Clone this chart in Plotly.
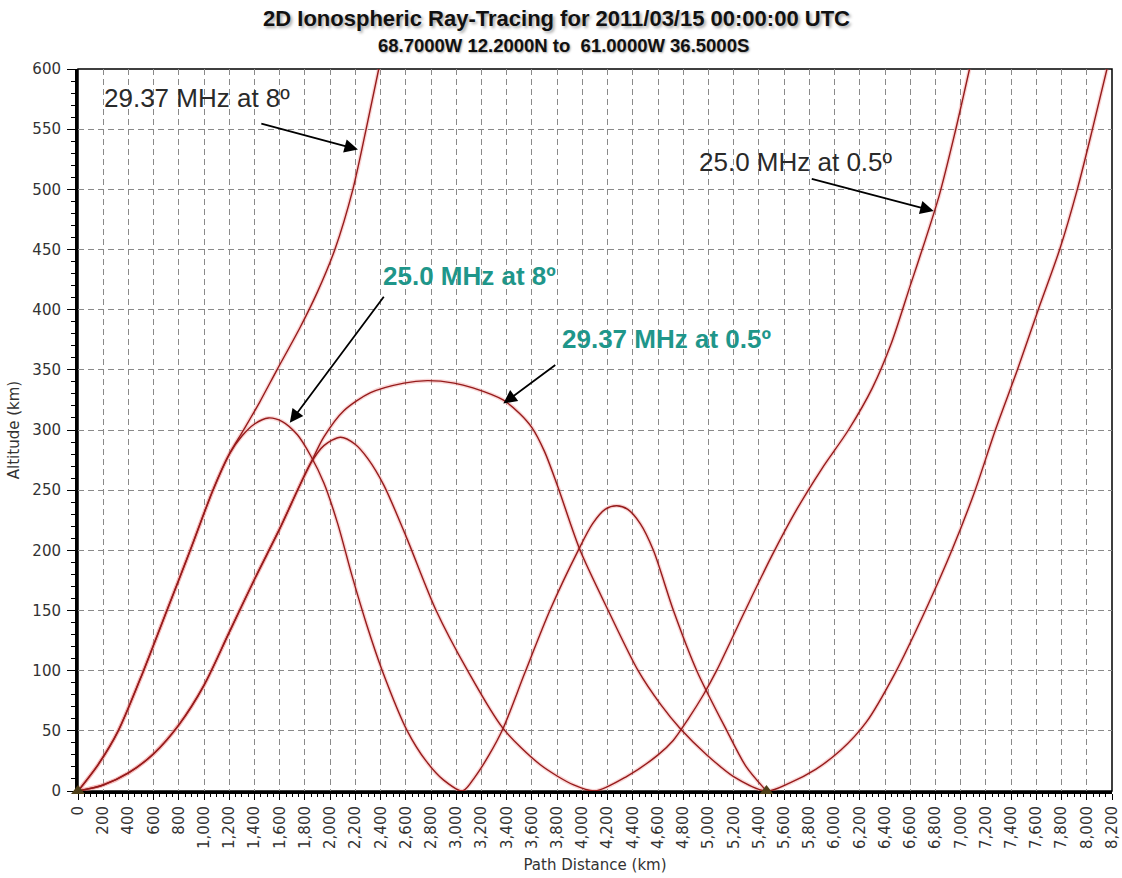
import plotly.graph_objects as go

# ---------------- data ----------------
# 29.37 MHz launched at 8 deg (escapes)
ray_2937_8_x = [0, 160, 319, 520, 705, 890, 1070, 1200, 1313, 1440, 1578, 1760, 1900, 2037,
                2180, 2285, 2385]
ray_2937_8_y = [0, 22, 50, 100, 150, 200, 250, 280, 300, 323, 350, 385, 415, 450,
                500, 550, 600]

# 25.0 MHz launched at 8 deg (two hops)
ray_25_8_x = [0, 160, 319, 520, 705, 890, 1070, 1200, 1300, 1400, 1510, 1620, 1740, 1843,
              1950, 2060, 2170, 2290, 2413, 2611, 2760, 2900, 3050, 3150, 3260, 3371, 3543,
              3742, 3967, 4080, 4180, 4272, 4360, 4460, 4563, 4722, 4907, 5146, 5300, 5460]
ray_25_8_y = [0, 22, 50, 100, 150, 200, 250, 280, 295, 305, 310, 307, 296, 279,
              256, 222, 180, 138, 100, 50, 25, 9, 0, 12, 30, 52, 98,
              150, 200, 222, 234, 237, 234, 222, 200, 150, 100, 50, 20, 0]

# 29.37 MHz launched at 0.5 deg (one hop, then escapes)
ray_2937_05_x = [0, 200, 400, 600, 800, 1000, 1200, 1400, 1600, 1750, 1843, 1949, 2108, 2320,
                 2585, 2770, 2983, 3132, 3371, 3500, 3600, 3700, 3808, 3982, 4205, 4442, 4620,
                 4775, 4987, 5199, 5460, 5650, 5850, 6050, 6250, 6480, 6720, 6930, 7115, 7275,
                 7450, 7615, 7785, 7925, 8045, 8160]
ray_2937_05_y = [0, 5, 15, 31, 55, 88, 132, 176, 218, 252, 272, 294, 316, 331,
                 339, 341, 339, 335, 325, 314, 302, 282, 252, 200, 150, 100, 72,
                 52, 30, 12, 0, 7, 18, 34, 57, 98, 150, 200, 250, 300,
                 350, 400, 450, 500, 550, 600]

# 25.0 MHz launched at 0.5 deg (one hop, then escapes)
ray_25_05_x = [0, 200, 400, 600, 800, 1000, 1200, 1400, 1600, 1750, 1843, 1950, 2082, 2200,
               2300, 2426, 2600, 2840, 3090, 3371, 3664, 3931, 4100, 4350, 4600, 4720, 4840,
               4960, 5064, 5291, 5500, 5700, 5900, 6110, 6300, 6450, 6600, 6720, 6830, 6950,
               7070]
ray_25_05_y = [0, 5, 15, 31, 55, 88, 132, 176, 218, 252, 272, 287, 294, 288,
               276, 254, 212, 150, 100, 52, 22, 5, 0, 12, 30, 42, 60,
               80, 100, 150, 195, 234, 268, 300, 335, 372, 420, 458, 495, 545,
               600]

# transmitter / receiver sites
site_x = [0, 5460]
site_y = [0, 0]

# labels: text, text anchor (x, y), arrow tip (x, y), arrow tail (x, y)
label_texts = ["29.37 MHz at 8º", "25.0 MHz at 0.5º", "25.0 MHz at 8º", "29.37 MHz at 0.5º"]
label_x = [188, 4910, 2400, 3823]
label_y = [576, 523, 428, 376]
label_colors = ["#2a2a2a", "#2a2a2a", "#1f968a", "#1f968a"]
label_bold = [False, False, True, True]
arrow_tip_x = [2220, 6786, 1680, 3373]
arrow_tip_y = [533, 482, 306, 322]
arrow_tail_x = [1442, 5807, 2434, 3797]
arrow_tail_y = [555, 509, 412, 355]

x_ticks = list(range(0, 8201, 200))

# ---------------- figure ----------------
LINE = "#961b1b"
HALO = "rgba(235,120,120,0.30)"
rays = [(ray_2937_8_x, ray_2937_8_y), (ray_25_8_x, ray_25_8_y),
        (ray_2937_05_x, ray_2937_05_y), (ray_25_05_x, ray_25_05_y)]

fig = go.Figure()
for rx, ry in rays:
    fig.add_trace(go.Scatter(x=rx, y=ry, mode="lines",
                             line=dict(color=HALO, width=4, shape="spline", smoothing=0.8),
                             hoverinfo="skip"))
for rx, ry in rays:
    fig.add_trace(go.Scatter(x=rx, y=ry, mode="lines",
                             line=dict(color=LINE, width=1.4, shape="spline", smoothing=0.8)))

fig.add_trace(go.Scatter(x=site_x, y=site_y, mode="markers",
                         marker=dict(symbol="triangle-up", size=12, color="#4f4019"),
                         cliponaxis=False))

TICKFONT = dict(family="DejaVu Sans, Verdana, sans-serif", size=15, color="#333333")

fig.update_layout(
    width=1122, height=878,
    margin=dict(l=78, r=10, t=69, b=87),
    paper_bgcolor="white", plot_bgcolor="white",
    showlegend=False,
    title=dict(
        text="<b>2D Ionospheric Ray-Tracing for 2011/03/15 00:00:00 UTC</b>",
        x=0.496, xref="container", xanchor="center",
        y=1 - 18 / 878, yref="container", yanchor="middle",
        font=dict(family="Liberation Sans, Arial, sans-serif",
                  size=22, color="#111111", shadow="2px 2px 3px #aaaaaa"),
    ),
)

fig.update_xaxes(
    range=[0, 8200], tickmode="array", tickvals=x_ticks, tickformat=",d",
    tickangle=-90, ticks="outside", ticklen=6, tickwidth=1, tickcolor="black",
    showline=True, linewidth=3, linecolor="black", mirror=False,
    showgrid=True, gridcolor="#8a8a8a", gridwidth=1, griddash="6px,4px",
    zeroline=False, tickfont=TICKFONT, layer="below traces",
    minor=dict(dtick=50, tick0=0, ticks="outside", ticklen=3, tickcolor="black", showgrid=False),
    title=dict(text="Path Distance (km)", font=TICKFONT, standoff=12),
    automargin=False,
)
fig.update_yaxes(
    range=[0, 600], dtick=50, tick0=0,
    ticks="outside", ticklen=8, tickwidth=1, tickcolor="black",
    showline=True, linewidth=3, linecolor="black", mirror=False,
    showgrid=True, gridcolor="#8a8a8a", gridwidth=1, griddash="6px,4px",
    zeroline=False, tickfont=TICKFONT, ticklabelstandoff=3, layer="below traces",
    minor=dict(dtick=10, tick0=0, ticks="outside", ticklen=4, tickcolor="black", showgrid=False),
    title=dict(text="Altitude (km)", font=TICKFONT, standoff=10),
    automargin=False,
)

# thin frame on top / right
fig.add_shape(type="rect", xref="paper", yref="paper", x0=0, y0=0, x1=1, y1=1,
              line=dict(color="black", width=1.5), layer="below")

annotations = [
    dict(text="<b>68.7000W 12.2000N to  61.0000W 36.5000S</b>",
         xref="paper", yref="paper", x=0.4695, y=1.033, xanchor="center", yanchor="middle",
         showarrow=False,
         font=dict(family="Liberation Sans, Arial, sans-serif", size=18.5, color="#111111",
                   shadow="1px 1px 2px #aaaaaa")),
]
for t, lx, ly, c, b in zip(label_texts, label_x, label_y, label_colors, label_bold):
    annotations.append(dict(
        text=f"<b>{t}</b>" if b else t, x=lx, y=ly, xref="x", yref="y",
        xanchor="left", yanchor="middle", showarrow=False,
        font=dict(family="Liberation Sans, Arial, sans-serif", size=26, color=c)))
for tx, ty, sx, sy in zip(arrow_tip_x, arrow_tip_y, arrow_tail_x, arrow_tail_y):
    annotations.append(dict(
        text="", x=tx, y=ty, ax=sx, ay=sy, xref="x", yref="y", axref="x", ayref="y",
        showarrow=True, arrowhead=2, arrowsize=1.5, arrowwidth=1.8,
        arrowcolor="black", standoff=0, startstandoff=0))
fig.update_layout(annotations=annotations)

fig.write_html("out.html", config={"displayModeBar": False},
               post_script="document.body.style.margin='0px';document.body.style.overflow='hidden';")
